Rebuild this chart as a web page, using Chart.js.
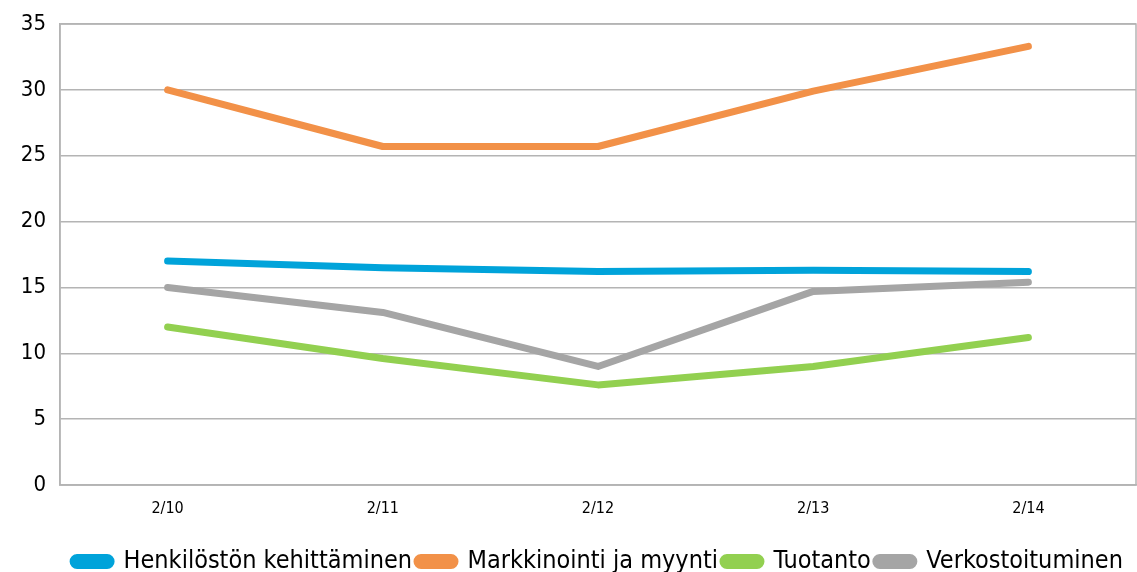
<!DOCTYPE html>
<html>
<head>
<meta charset="utf-8">
<script src="https://cdn.jsdelivr.net/npm/chart.js@4"></script>
<style>
  html, body { margin: 0; padding: 0; background: #fff; }
  #wrap { width: 1137px; height: 572px; }
</style>
</head>
<body>
<div id="wrap"><canvas id="chart"></canvas></div>
<script>
// *************
// * Data *
// *************
const periods = ['2/10', '2/11', '2/12', '2/13', '2/14'];
const henkilosto = [17.0, 16.5, 16.2, 16.3, 16.2];
const markkinointi = [30.0, 25.7, 25.7, 29.9, 33.3];
const tuotanto = [12.0, 9.6, 7.6, 9.0, 11.2];
const verkostoituminen = [15.0, 13.1, 9.0, 14.7, 15.4];
const yTicks = [0, 5, 10, 15, 20, 25, 30, 35];

const fontFamily = '"DejaVu Sans Condensed", "DejaVu Sans", sans-serif';
const gridColor = '#b4b4b4';

// draws the frame round the plot area
const frame = {
    id: 'frame',
    afterDraw(chart) {
        const { ctx, chartArea } = chart;
        ctx.save();
        ctx.strokeStyle = gridColor;
        ctx.lineWidth = 1.5;
        ctx.strokeRect(chartArea.left, chartArea.top, chartArea.right - chartArea.left, chartArea.bottom - chartArea.top);
        ctx.restore();
    }
};

function series(label, data, color) {
    return {
        label: label,
        data: data,
        borderColor: color,
        backgroundColor: color,
        borderWidth: 7,
        borderCapStyle: 'round',
        borderJoinStyle: 'round',
        pointRadius: 0,
        tension: 0
    };
}

new Chart(document.getElementById('chart'), {
    type: 'line',
    data: {
        labels: periods,
        datasets: [
            series('Henkilöstön kehittäminen', henkilosto, '#00a3da'),
            series('Markkinointi ja myynti', markkinointi, '#f29148'),
            series('Tuotanto', tuotanto, '#92d050'),
            series('Verkostoituminen', verkostoituminen, '#a5a5a5')
        ]
    },
    options: {
        responsive: true,
        maintainAspectRatio: false,
        animation: false,
        layout: { padding: { top: 24, right: 1, left: 0, bottom: -12 } },
        plugins: {
            tooltip: { enabled: false },
            legend: {
                position: 'bottom',
                fullSize: false, // centre the legend under the plot, not the canvas
                labels: {
                    color: '#000',
                    font: { family: fontFamily, size: 25 },
                    boxWidth: 38,
                    boxHeight: 8,
                    useBorderRadius: true,
                    borderRadius: 4,
                    padding: 5
                }
            }
        },
        scales: {
            x: {
                offset: true,
                afterFit(scale) { scale.height = 59; },
                grid: { display: false, drawTicks: false },
                border: { color: gridColor, width: 1.5 },
                ticks: {
                    color: '#000',
                    padding: 14,
                    font: { family: fontFamily, size: 16 }
                }
            },
            y: {
                min: 0,
                max: 35,
                afterFit(scale) {
                    scale.width = 60;
                    // the top padding is set by layout, not by the label height
                    scale.paddingTop = 0;
                    scale.paddingBottom = 0;
                },
                afterBuildTicks(scale) { scale.ticks = yTicks.map(v => ({ value: v })); },
                grid: { color: gridColor, lineWidth: 1.5, drawTicks: false },
                border: { color: gridColor, width: 1.5 },
                ticks: {
                    color: '#000',
                    padding: 14,
                    font: { family: fontFamily, size: 22 }
                }
            }
        }
    },
    plugins: [frame]
});
</script>
</body>
</html>
